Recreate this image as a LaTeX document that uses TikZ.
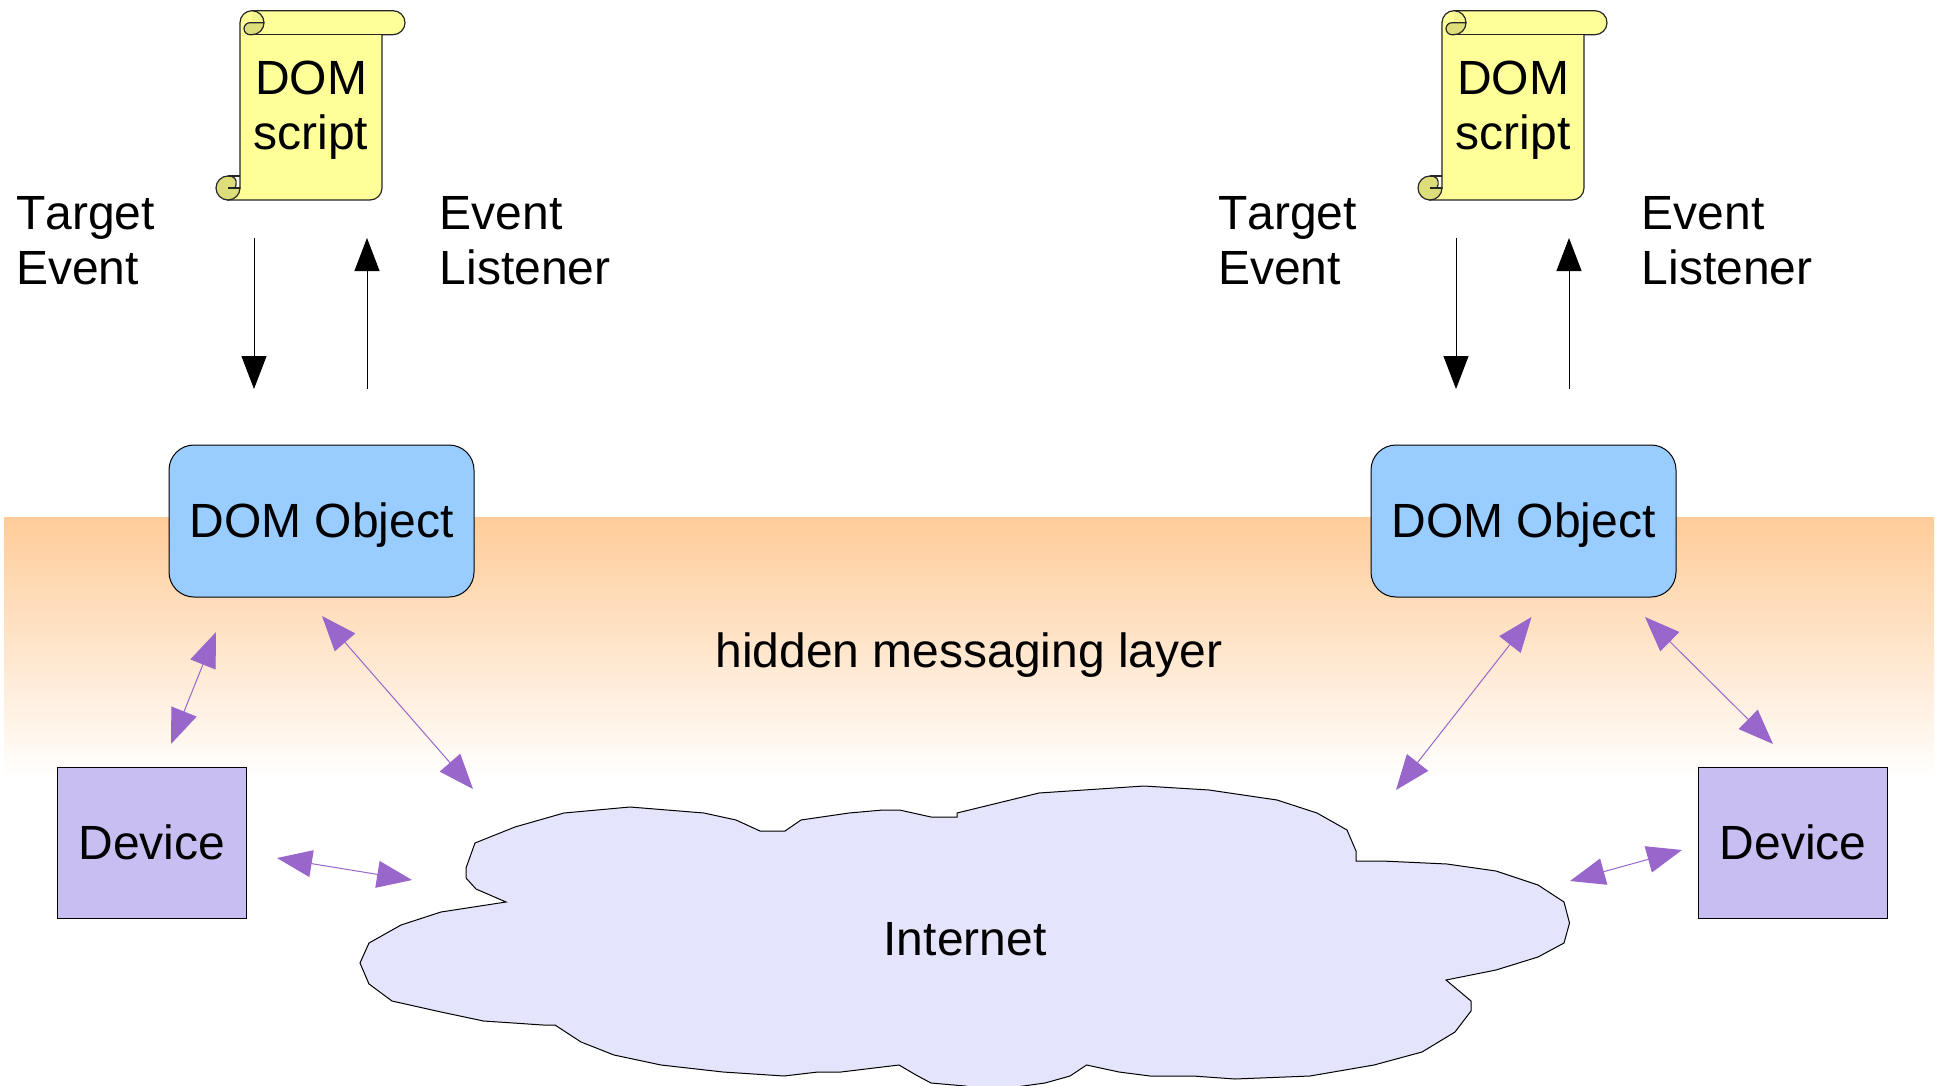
\documentclass[tikz,border=0pt]{standalone}
\usepackage{fontspec}
\setmainfont[Kerning=Off]{Liberation Sans}
\usetikzlibrary{arrows.meta}
\definecolor{scrollyellow}{HTML}{FFFF99}
\definecolor{scrolldark}{HTML}{DDDD7A}
\definecolor{domblue}{HTML}{99CCFF}
\definecolor{devicepurple}{HTML}{C8BEF2}
\definecolor{cloudblue}{HTML}{E4E4FC}
\definecolor{linkpurple}{HTML}{9966CC}
\definecolor{bandorange}{HTML}{FFCC99}
\tikzset{
  lbl/.style={font=\fontsize{48}{55}\selectfont,inner sep=0pt,align=left},
  dombox/.style={lbl,draw=black,line width=1pt,fill=domblue,rounded corners=25pt,minimum width=305pt,minimum height=152pt,align=center},
  devbox/.style={lbl,draw=black,line width=1pt,fill=devicepurple,minimum width=189pt,minimum height=151pt,align=center},
  link/.style={draw=linkpurple,line width=1pt,{Triangle[length=35pt,width=27pt]}-{Triangle[length=35pt,width=27pt]}},
  flow/.style={draw=black,line width=1pt,-{Triangle[length=33pt,width=25pt]}},
  scrollline/.style={draw=black!85,line width=1.2pt},
}
\newcommand{\domscroll}[2]{%
  \begin{scope}[shift={(#1,0)}]
    \path[scrollline,fill=scrollyellow]
      (240,22.7) arc[start angle=180,end angle=90,radius=12pt] -- (393,10.7)
      arc[start angle=90,end angle=-90,radius=12pt] -- (382,34.7) -- (382,188)
      arc[start angle=0,end angle=-90,radius=12pt] -- (228,200) -- (240,188) -- cycle;
    \fill[scrollyellow!70!scrolldark] (252,10.7) arc[start angle=90,end angle=0,radius=12pt] -- (252,22.7) -- cycle;
    \path[scrollline,fill=scrolldark]
      (252,34.7) arc[start angle=270,end angle=360,radius=12pt] -- (250,22.7)
      arc[start angle=90,end angle=270,radius=6pt] -- cycle;
    \path[scrollline] (252,34.7) -- (382,34.7);
    \path[scrollline] (252,10.7) arc[start angle=90,end angle=0,radius=12pt];
    \path[scrollline,fill=scrolldark]
      (228,176) arc[start angle=90,end angle=270,radius=12pt]
      arc[start angle=-90,end angle=0,radius=12pt] -- (235,188)
      .. controls (237,184) and (237,178) .. (232,176.5) -- cycle;
    \path[scrollline] (228,188) -- (240,188);
    \path[scrollline] (228,176) -- (240,176);
    \node[lbl,align=center] (#2) at (311,110.5) {DOM\\script};
  \end{scope}}
\begin{document}
\begin{tikzpicture}[x=1pt,y=-1pt]
\useasboundingbox (0,0) rectangle (1935,1086);
\fill[white] (0,0) rectangle (1935,1086);
\shade[top color=bandorange,bottom color=white] (4,517) rectangle (1934,780);
\path[draw=black,line width=1pt,fill=cloudblue]
 (475,843) -- (515,827) -- (564,813) -- (630,807) -- (704,813) -- (736,820) -- (760,831) -- (785,831)
 -- (801,820) -- (849,813) -- (883,810) -- (899.5,810) -- (931,817) -- (957,817) -- (957,813)
 -- (1039,793) -- (1144,786) -- (1209,790) -- (1277,800) -- (1317,813) -- (1347,830) -- (1356,851)
 -- (1356,861) -- (1382,861) -- (1447,864) -- (1496,871) -- (1538,885) -- (1564,902) -- (1569.5,923)
 -- (1564,943) -- (1538,957) -- (1496,970) -- (1446,980) -- (1471,1001) -- (1471,1011) -- (1455,1032)
 -- (1422,1052) -- (1374,1065) -- (1310,1076) -- (1235,1079) -- (1193,1076) -- (1150,1076) -- (1119,1072)
 -- (1086.5,1065) -- (1070,1076) -- (1045,1083) -- (1016,1087) -- (985,1090) -- (965,1086) -- (931,1083)
 -- (916,1075) -- (899,1065) -- (841,1072) -- (818,1072) -- (784,1076) -- (723,1072) -- (661,1065)
 -- (614,1055) -- (581,1042) -- (555,1025) -- (543,1025) -- (483.5,1021) -- (441,1012) -- (392,1001)
 -- (369,984) -- (360,963) -- (369,943) -- (401,925) -- (441,912) -- (506,902) -- (476,889) -- (466,878)
 -- (466,868) -- cycle;
\node[lbl] (internet) at (965,939.5) {Internet};
\node[lbl] (hidden) at (969,655) {hidden messaging layer};
\node[dombox] (domL) at (321.5,521) {\raisebox{-16.5pt}[0pt][0pt]{DOM Object}};
\node[dombox] (domR) at (1523.5,521) {\raisebox{-16.5pt}[0pt][0pt]{DOM Object}};
\node[devbox] (devL) at (151.5,842.5) {\hspace*{1pt}Device};
\node[devbox] (devR) at (1793,842.5) {Device};
\domscroll{0}{scrL}
\domscroll{1202}{scrR}
\node[lbl,anchor=west] (targetL) at (16,241) {Target\\Event};
\node[lbl,anchor=west] (listenL) at (439.5,241) {Event\\Listener};
\node[lbl,anchor=west] (targetR) at (1218,241) {Target\\Event};
\node[lbl,anchor=west] (listenR) at (1641.5,241) {Event\\Listener};
\coordinate (a1) at (254,238); \coordinate (a2) at (254,389);
\coordinate (b1) at (367,389); \coordinate (b2) at (367,238);
\coordinate (c1) at (1456,238); \coordinate (c2) at (1456,389);
\coordinate (d1) at (1569,389); \coordinate (d2) at (1569,238);
\draw[flow] (a1) -- (a2);
\draw[flow] (b1) -- (b2);
\draw[flow] (c1) -- (c2);
\draw[flow] (d1) -- (d2);
\coordinate (e1) at (216,632); \coordinate (e2) at (171,744);
\coordinate (f1) at (322,616); \coordinate (f2) at (473,789);
\coordinate (g1) at (277,858); \coordinate (g2) at (412,880);
\coordinate (h1) at (1531.5,617); \coordinate (h2) at (1396,790);
\coordinate (i1) at (1645,617); \coordinate (i2) at (1773,744);
\coordinate (j1) at (1682,850); \coordinate (j2) at (1570,881);
\draw[link] (e1) -- (e2);
\draw[link] (f1) -- (f2);
\draw[link] (g1) -- (g2);
\draw[link] (h1) -- (h2);
\draw[link] (i1) -- (i2);
\draw[link] (j1) -- (j2);
\end{tikzpicture}
\end{document}
